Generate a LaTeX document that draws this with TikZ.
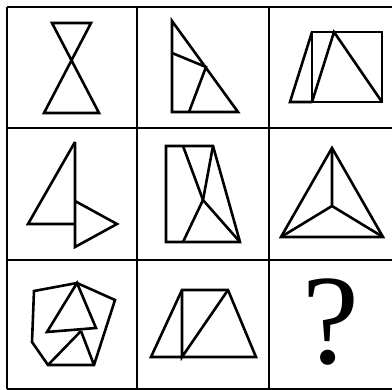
\documentclass[tikz,border=0pt]{standalone}
\usepackage{fontspec}
\setmainfont{Liberation Serif}
\begin{document}
\begin{tikzpicture}[x=1pt,y=-1pt,
  grid/.style={line width=2.6pt},
  fig/.style={line width=2.6pt,line join=miter}]
\useasboundingbox (0,0) rectangle (392,390);
% grid
\draw[grid] (7,7) -- (392,7);
\draw[grid] (7,128) -- (392,128);
\draw[grid] (7,260) -- (392,260);
\draw[grid] (7,389) -- (392,389);
\draw[grid] (7,7) -- (7,389);
\draw[grid] (137,7) -- (137,389);
\draw[grid] (269,7) -- (269,389);
% cell 1: hourglass
\draw[fig] (52,23) -- (91,23) -- (44,113) -- (99,113) -- cycle;
% cell 2
\draw[fig] (172,21) -- (238,112) -- (172,112) -- cycle;
\draw[fig] (172,53) -- (206,67) -- (189,112);
% cell 3
\draw[fig] (312,32) rectangle (382,102);
\draw[fig] (312,32) -- (290,102) -- (312,102);
\draw[fig] (312,102) -- (334,32) -- (382,102);
% cell 4
\draw[fig] (75,142) -- (28,224) -- (75,224);
\draw[fig] (75,142) -- (75,247) -- (117,224) -- (75,201);
% cell 5
\draw[fig] (166,146) -- (213,146) -- (240,242) -- (166,242) -- cycle;
\draw[fig] (183,146) -- (203,200) -- (240,242);
\draw[fig] (213,146) -- (203,200) -- (183,242);
% cell 6
\draw[fig] (332,148) -- (383,237) -- (281,237) -- cycle;
\draw[fig] (332,148) -- (332,206) -- (281,237);
\draw[fig] (332,206) -- (383,237);
% cell 7
\draw[fig] (34,291) -- (77,283) -- (115,300) -- (94,365) -- (48,365) -- (32,342) -- cycle;
\draw[fig] (77,283) -- (47,332) -- (96,328) -- cycle;
\draw[fig] (81,331) -- (48,365);
\draw[fig] (81,331) -- (94,365);
% cell 8
\draw[fig] (182,290) -- (228,290) -- (256,357) -- (151,357) -- cycle;
\draw[fig] (182,290) -- (182,357) -- (228,290);
% cell 9
\node[inner sep=0pt] (q) at (331,322) {\fontsize{128}{128}\selectfont ?};
\end{tikzpicture}
\end{document}
